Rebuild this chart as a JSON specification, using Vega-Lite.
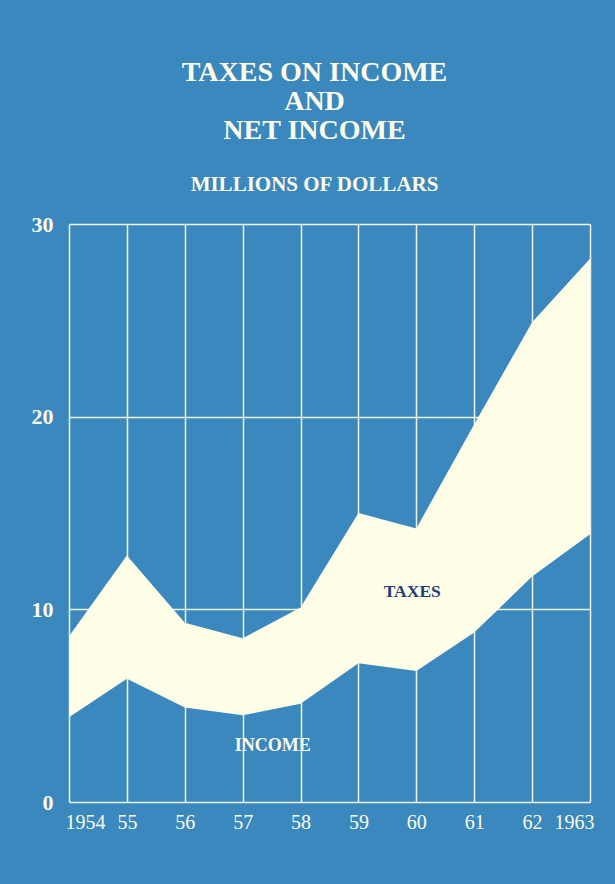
{
  "$schema": "https://vega.github.io/schema/vega-lite/v6.json",
  "width": 521,
  "height": 578,
  "autosize": "none",
  "padding": {"left": 69, "top": 224, "right": 25, "bottom": 82},
  "background": "#3b88be",
  "title": {
    "text": ["TAXES ON INCOME", "AND", "NET INCOME"],
    "subtitle": "MILLIONS OF DOLLARS",
    "anchor": "middle",
    "dx": -15,
    "font": "Liberation Serif",
    "fontSize": 28,
    "fontWeight": "bold",
    "lineHeight": 29,
    "color": "#fbfbe6",
    "subtitleFont": "Liberation Serif",
    "subtitleFontSize": 21,
    "subtitleFontWeight": "bold",
    "subtitleColor": "#fbfbe6",
    "subtitlePadding": 29,
    "offset": 18
  },
  "config": {
    "view": {"stroke": null},
    "axis": {
      "grid": true,
      "gridColor": "#eef1e6",
      "gridWidth": 1.5,
      "gridOpacity": 1,
      "ticks": false,
      "domain": false,
      "labelFont": "Liberation Serif",
      "labelColor": "#fbfbe6",
      "title": null
    }
  },
  "data": {
    "values": [
      {"year": 1954, "net": 4.4, "gross": 8.6},
      {"year": 1955, "net": 6.4, "gross": 12.8},
      {"year": 1956, "net": 4.9, "gross": 9.3},
      {"year": 1957, "net": 4.5, "gross": 8.5},
      {"year": 1958, "net": 5.1, "gross": 10.1},
      {"year": 1959, "net": 7.2, "gross": 15.0},
      {"year": 1960, "net": 6.8, "gross": 14.2},
      {"year": 1961, "net": 8.8, "gross": 19.6},
      {"year": 1962, "net": 11.7, "gross": 24.9},
      {"year": 1963, "net": 13.9, "gross": 28.2}
    ]
  },
  "layer": [
    {
      "mark": {"type": "area", "color": "#fefee6", "opacity": 1},
      "encoding": {
        "x": {
          "field": "year",
          "type": "quantitative",
          "scale": {"domain": [1954, 1963], "nice": false, "zero": false},
          "axis": {
            "values": [1954, 1955, 1956, 1957, 1958, 1959, 1960, 1961, 1962, 1963],
            "labelExpr": "datum.value == 1954 || datum.value == 1963 ? datum.value : substring(toString(datum.value), 2)",
            "labelFlush": true,
            "labelFlushOffset": 4,
            "labelFontSize": 20,
            "labelPadding": 10
          }
        },
        "y": {
          "field": "gross",
          "type": "quantitative",
          "scale": {"domain": [0, 30], "nice": false},
          "axis": {
            "values": [0, 10, 20, 30],
            "labelFontSize": 22,
            "labelFontWeight": "bold",
            "labelPadding": 16
          }
        },
        "y2": {"field": "net"}
      }
    },
    {
      "data": {"values": [{"year": 1959.93, "v": 10.9, "label": "TAXES"}]},
      "mark": {"type": "text", "font": "Liberation Serif", "fontSize": 17.5, "fontWeight": "bold", "color": "#1f3f78", "baseline": "middle", "align": "center"},
      "encoding": {
        "x": {"field": "year", "type": "quantitative"},
        "y": {"field": "v", "type": "quantitative"},
        "text": {"field": "label"}
      }
    },
    {
      "data": {"values": [{"year": 1957.52, "v": 2.9, "label": "INCOME"}]},
      "mark": {"type": "text", "font": "Liberation Serif", "fontSize": 18, "fontWeight": "bold", "color": "#fbfbe6", "baseline": "middle", "align": "center"},
      "encoding": {
        "x": {"field": "year", "type": "quantitative"},
        "y": {"field": "v", "type": "quantitative"},
        "text": {"field": "label"}
      }
    }
  ]
}
